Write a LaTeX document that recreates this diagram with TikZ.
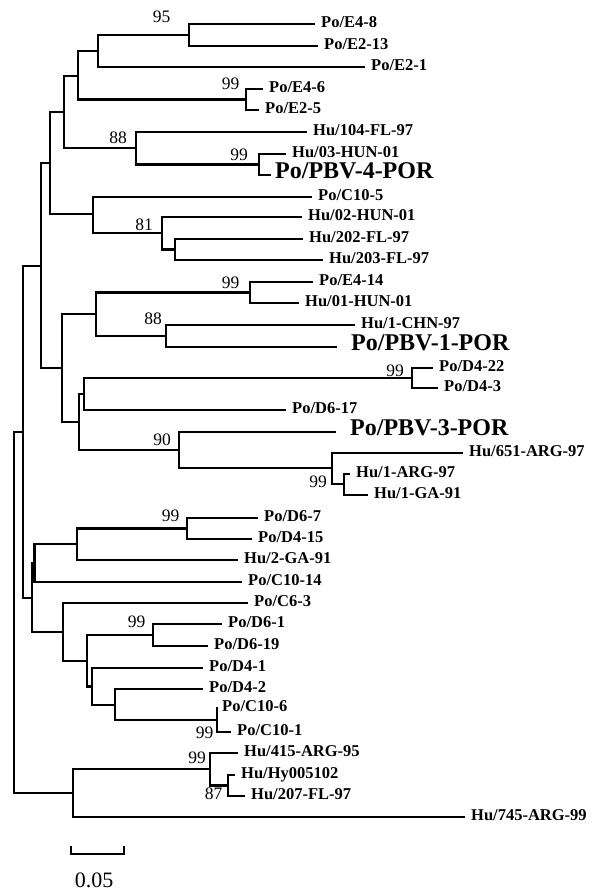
\documentclass[tikz,border=0pt]{standalone}
\usepackage{fontspec}
\setmainfont{Liberation Serif}
\usetikzlibrary{positioning}

\begin{document}
\begin{tikzpicture}[
  x=1pt, y=-1pt,
  br/.style={line width=2.5pt},
  leaf/.style={anchor=west, inner xsep=6pt, inner ysep=1pt,
               font=\fontsize{16.5}{18}\selectfont\bfseries,
               text height=0.66em, text depth=0pt},
  bigleaf/.style={leaf, inner xsep=14pt, font=\fontsize{24}{26}\selectfont\bfseries},
  boot/.style={inner sep=0pt, font=\fontsize{17.5}{19}\selectfont,
               text height=0.68em, text depth=0pt},
  scl/.style={inner sep=0pt, font=\fontsize{22}{24}\selectfont,
              text height=0.68em, text depth=0pt}
]
\useasboundingbox (0,0) rectangle (592,895);

% ---------- internal nodes ----------
\coordinate (nRoot) at (14,612);
\coordinate (nN)  at (23,432);
\coordinate (nJ)  at (41,266);
\coordinate (nH)  at (50,163);
\coordinate (nE)  at (64,112);
\coordinate (nC)  at (78,76);
\coordinate (nB)  at (98,51);
\coordinate (nA)  at (189,35);
\coordinate (nD)  at (246,99.5);
\coordinate (nF)  at (136,148);
\coordinate (nG)  at (259,164.5);
\coordinate (nI)  at (93,214);
\coordinate (nK)  at (162,233);
\coordinate (nL)  at (175,249.5);
\coordinate (nM)  at (62,368);
\coordinate (nO)  at (96,314);
\coordinate (nP)  at (250,292.5);
\coordinate (nQ)  at (166,336);
\coordinate (nR)  at (79,422);
\coordinate (nS)  at (84,394);
\coordinate (nT)  at (412,378);
\coordinate (nU)  at (179,450);
\coordinate (nV)  at (332,468);
\coordinate (nW)  at (344,484);
\coordinate (nX)  at (32,598);
\coordinate (nX2) at (34.5,563);
\coordinate (nY)  at (77,544);
\coordinate (nAA) at (187,528.5);
\coordinate (nZ)  at (63,632);
\coordinate (nAB) at (87,661);
\coordinate (nAC) at (153,635);
\coordinate (nAF) at (92,686.5);
\coordinate (nAD) at (115,705);
\coordinate (nAE) at (217,720);
\coordinate (nAG) at (73,793);
\coordinate (nAH) at (210,769);
\coordinate (nAI) at (228,785.5);

% ---------- leaves ----------
\node[leaf] (lE48)   at (315,24)  {Po/E4-8};
\node[leaf] (lE213)  at (318,46)  {Po/E2-13};
\node[leaf] (lE21)   at (365,67)  {Po/E2-1};
\node[leaf] (lE46)   at (263,89)  {Po/E4-6};
\node[leaf] (lE25)   at (259,110) {Po/E2-5};
\node[leaf] (l104)   at (307,132) {Hu/104-FL-97};
\node[leaf] (l03)    at (286,154) {Hu/03-HUN-01};
\node[bigleaf, inner xsep=4pt] (lPBV4) at (271,175) {Po/PBV-4-POR};
\node[leaf] (lC105)  at (312,197) {Po/C10-5};
\node[leaf] (l02)    at (302,217) {Hu/02-HUN-01};
\node[leaf] (l202)   at (303,239) {Hu/202-FL-97};
\node[leaf] (l203)   at (323,260) {Hu/203-FL-97};
\node[leaf] (lE414)  at (313,282) {Po/E4-14};
\node[leaf] (l01)    at (299,303) {Hu/01-HUN-01};
\node[leaf] (lCHN)   at (355,325) {Hu/1-CHN-97};
\node[bigleaf] (lPBV1) at (337,347) {Po/PBV-1-POR};
\node[leaf] (lD422)  at (433,368) {Po/D4-22};
\node[leaf] (lD43)   at (438,388) {Po/D4-3};
\node[leaf] (lD617)  at (286,410) {Po/D6-17};
\node[bigleaf] (lPBV3) at (336,432) {Po/PBV-3-POR};
\node[leaf] (l651)   at (463,453) {Hu/651-ARG-97};
\node[leaf] (lARG97) at (350,474) {Hu/1-ARG-97};
\node[leaf] (lGA91)  at (368,495) {Hu/1-GA-91};
\node[leaf] (lD67)   at (258,518) {Po/D6-7};
\node[leaf] (lD415)  at (252,539) {Po/D4-15};
\node[leaf] (lGA2)   at (238,560) {Hu/2-GA-91};
\node[leaf] (lC1014) at (242,582) {Po/C10-14};
\node[leaf] (lC63)   at (248,603) {Po/C6-3};
\node[leaf] (lD61)   at (222,624) {Po/D6-1};
\node[leaf] (lD619)  at (208,646) {Po/D6-19};
\node[leaf] (lD41)   at (203,668) {Po/D4-1};
\node[leaf] (lD42)   at (203,689) {Po/D4-2};
\node[leaf, inner xsep=4pt] (lC106) at (218,708) {Po/C10-6};
\node[leaf] (lC101)  at (231,732) {Po/C10-1};
\node[leaf] (l415)   at (238,753) {Hu/415-ARG-95};
\node[leaf] (lHy)    at (235,775) {Hu/Hy005102};
\node[leaf] (l207)   at (245,796) {Hu/207-FL-97};
\node[leaf] (l745)   at (465,817) {Hu/745-ARG-99};

% ---------- branches ----------
\foreach \p/\c in {nRoot/nN, nRoot/nAG, nN/nJ, nN/nX, nJ/nH, nJ/nM,
    nH/nE, nH/nI, nE/nC, nE/nF, nC/nB, nC/nD, nB/nA, nB/lE21,
    nA/lE48, nA/lE213, nD/lE46, nD/lE25, nF/l104, nF/nG,
    nG/l03, nG/lPBV4, nI/lC105, nI/nK, nK/l02, nK/nL,
    nL/l202, nL/l203, nM/nO, nM/nR, nO/nP, nO/nQ,
    nP/lE414, nP/l01, nQ/lCHN, nQ/lPBV1, nR/nS, nR/nU,
    nS/nT, nS/lD617, nT/lD422, nT/lD43, nU/lPBV3, nU/nV,
    nV/l651, nV/nW, nW/lARG97, nW/lGA91,
    nX/nX2, nX/nZ, nX2/nY, nX2/lC1014, nY/nAA, nY/lGA2,
    nAA/lD67, nAA/lD415, nZ/lC63, nZ/nAB, nAB/nAC, nAB/nAF,
    nAC/lD61, nAC/lD619, nAF/lD41, nAF/nAD, nAD/lD42, nAD/nAE,
    nAE/lC106, nAE/lC101, nAG/nAH, nAG/l745, nAH/l415, nAH/nAI,
    nAI/lHy, nAI/l207}
  {\draw[br] (\p) |- (\c);}

% ---------- bootstrap values ----------
\node[boot] (bsA)  at (161.5,19)  {95};
\node[boot] (bsD)  at (230.5,86)  {99};
\node[boot] (bsF)  at (118,140)   {88};
\node[boot] (bsG)  at (239,157.5) {99};
\node[boot] (bsK)  at (144,227)   {81};
\node[boot] (bsP)  at (230.5,285) {99};
\node[boot] (bsQ)  at (153,321.5) {88};
\node[boot] (bsT)  at (395,373)   {99};
\node[boot] (bsU)  at (162,442)   {90};
\node[boot] (bsW)  at (318,484)   {99};
\node[boot] (bsAA) at (170.5,518.5) {99};
\node[boot] (bsAC) at (136.5,624) {99};
\node[boot] (bsAE) at (204.5,735) {99};
\node[boot] (bsAH) at (197,760)   {99};
\node[boot] (bsAI) at (213.5,796.5) {87};

% ---------- scale bar ----------
\coordinate (sbL) at (71,846);
\coordinate (sbR) at (124,846);
\draw[br] (sbL) -- ++(0,8) -| (sbR);
\node[scl] (sbT) at (94,884.5) {0.05};

\end{tikzpicture}
\end{document}
